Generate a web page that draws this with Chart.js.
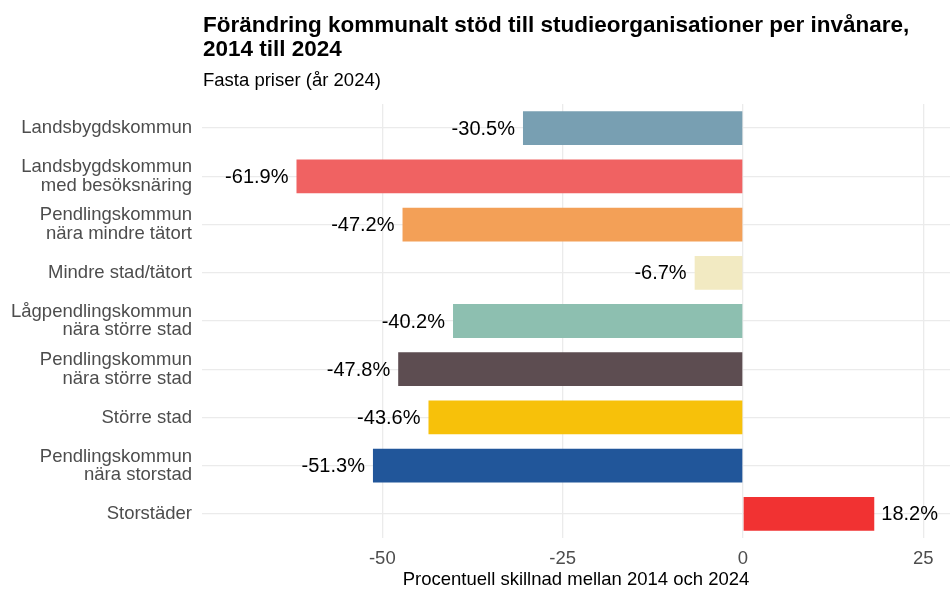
<!DOCTYPE html>
<html lang="sv">
<head>
<meta charset="utf-8">
<title>Förändring kommunalt stöd till studieorganisationer per invånare</title>
<script src="https://cdn.jsdelivr.net/npm/chart.js@4/dist/chart.umd.min.js"></script>
<style>
    html, body { margin: 0; padding: 0; background: #fff; }
    #wrap { position: relative; width: 950px; height: 590px; font-family: "Liberation Sans", Arial, sans-serif; }
    #title { position: absolute; left: 203px; top: 13px; font-size: 22.5px; font-weight: bold; line-height: 24px; color: #000; }
    #subtitle { position: absolute; left: 203px; top: 69px; font-size: 18.5px; line-height: 22px; color: #000; }
    canvas { position: absolute; left: 0; top: 0; }
</style>
</head>
<body>
<div id="wrap">
    <canvas id="chart" width="950" height="590"></canvas>
    <div id="title">Förändring kommunalt stöd till studieorganisationer per invånare,<br>2014 till 2024</div>
    <div id="subtitle">Fasta priser (år 2024)</div>
</div>
<script>
const categories = [
    'Landsbygdskommun',
    ['Landsbygdskommun', 'med besöksnäring'],
    ['Pendlingskommun', 'nära mindre tätort'],
    'Mindre stad/tätort',
    ['Lågpendlingskommun', 'nära större stad'],
    ['Pendlingskommun', 'nära större stad'],
    'Större stad',
    ['Pendlingskommun', 'nära storstad'],
    'Storstäder'
];
const changePct = [-30.5, -61.9, -47.2, -6.7, -40.2, -47.8, -43.6, -51.3, 18.2];
const barColors = ['#789fb2', '#f06262', '#f3a057', '#f2eac2', '#8dbfb0', '#5d4d51', '#f7c10a', '#21569a', '#f13232'];
const tickValues = [-50, -25, 0, 25];

const FONT = '"Liberation Sans", Arial, sans-serif';

// draw the percent labels next to the bar ends
const barLabels = {
    id: 'barLabels',
    afterDatasetsDraw(chart) {
        const ctx = chart.ctx;
        const meta = chart.getDatasetMeta(0);
        ctx.save();
        ctx.font = '20px ' + FONT;
        ctx.fillStyle = '#000';
        ctx.textBaseline = 'middle';
        meta.data.forEach((bar, i) => {
            const v = changePct[i];
            const txt = v.toFixed(1) + '%';
            if (v < 0) {
                ctx.textAlign = 'right';
                ctx.fillText(txt, bar.x - 8, bar.y + 1);
            } else {
                ctx.textAlign = 'left';
                ctx.fillText(txt, bar.x + 7, bar.y + 1);
            }
        });
        ctx.restore();
    }
};

new Chart(document.getElementById('chart'), {
    type: 'bar',
    data: {
        labels: categories,
        datasets: [{
            data: changePct,
            backgroundColor: barColors,
            borderWidth: 0,
            barPercentage: 0.7,
            categoryPercentage: 1
        }]
    },
    options: {
        indexAxis: 'y',
        responsive: false,
        animation: false,
        events: [],
        layout: {
            padding: { top: 104, right: 0, bottom: 0, left: 0 }
        },
        plugins: {
            legend: { display: false },
            tooltip: { enabled: false }
        },
        scales: {
            x: {
                min: -75,
                max: 28.7,
                afterBuildTicks(scale) {
                    scale.ticks = tickValues.map(v => ({ value: v }));
                },
                afterFit(scale) { scale.height = 52; },
                grid: { color: '#ebebeb', lineWidth: 1.3, drawTicks: false },
                border: { display: false },
                ticks: {
                    color: '#4d4d4d',
                    font: { family: FONT, size: 18.5 },
                    padding: 10
                },
                title: {
                    display: true,
                    text: 'Procentuell skillnad mellan 2014 och 2024',
                    color: '#000',
                    font: { family: FONT, size: 18.5 },
                    padding: { top: 0, bottom: -1 }
                }
            },
            y: {
                afterFit(scale) { scale.width = 202; },
                grid: { color: '#ebebeb', lineWidth: 1.3, drawTicks: false, offset: false },
                border: { display: false },
                ticks: {
                    color: '#4d4d4d',
                    font: { family: FONT, size: 18.5, lineHeight: 1.0 },
                    padding: 10
                }
            }
        }
    },
    plugins: [barLabels]
});
</script>
</body>
</html>
